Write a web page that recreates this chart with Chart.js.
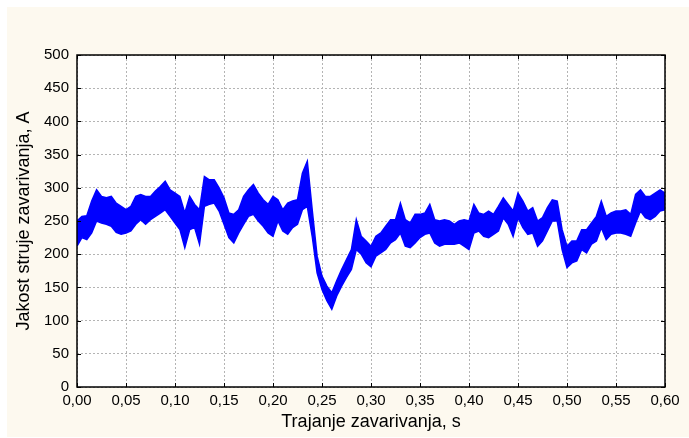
<!DOCTYPE html>
<html>
<head>
<meta charset="utf-8">
<title>Jakost struje zavarivanja</title>
<script src="https://cdn.jsdelivr.net/npm/chart.js@4.4.1/dist/chart.umd.min.js"></script>
<style>
  html, body { margin: 0; padding: 0; background: #ffffff; }
  #wrap { width: 689px; height: 438px; position: relative; }
</style>
</head>
<body>
<div id="wrap"><canvas id="current_chart"></canvas></div>
<script>
"use strict";

/*-- welding current, sampled every 5 ms (upper / lower edge of the ripple band) --*/
var step = 0.005;
var currentUpper = [
  250, 257, 258, 280, 297, 287, 285, 287, 277, 272,
  267, 272, 287, 290, 287, 287, 295, 302, 310, 297,
  292, 287, 262, 287, 275, 267, 317, 312, 312, 300,
  285, 262, 260, 267, 287, 297, 305, 292, 282, 275,
  287, 282, 267, 277, 280, 282, 322, 340, 267, 197,
  167, 152, 142, 160, 177, 192, 207, 252, 227, 220,
  212, 227, 232, 242, 252, 252, 277, 252, 247, 260,
  260, 262, 275, 252, 250, 252, 250, 245, 250, 252,
  250, 275, 262, 260, 265, 260, 272, 285, 275, 265,
  292, 280, 265, 270, 250, 255, 270, 282, 280, 237,
  212, 220, 220, 237, 237, 247, 257, 280, 257, 262,
  265, 265, 267, 260, 290, 297, 287, 287, 292, 297,
  292
];
var currentLower = [
  212, 225, 222, 232, 250, 247, 245, 242, 233, 230,
  232, 235, 245, 252, 245, 252, 257, 262, 267, 257,
  247, 237, 210, 237, 240, 215, 272, 275, 277, 265,
  245, 225, 217, 232, 245, 257, 260, 250, 242, 232,
  227, 250, 235, 230, 240, 245, 267, 272, 227, 172,
  147, 130, 117, 137, 152, 165, 177, 207, 200, 187,
  181, 197, 202, 207, 217, 222, 232, 212, 210, 217,
  225, 230, 232, 217, 212, 215, 215, 215, 217, 212,
  207, 232, 235, 227, 225, 230, 235, 255, 245, 227,
  255, 240, 230, 232, 212, 220, 235, 250, 250, 207,
  180, 187, 190, 207, 202, 215, 220, 240, 222, 230,
  232, 232, 230, 227, 247, 265, 255, 252, 257, 265,
  267
];

/*-- axis ticks --*/
var xTicks = [0, 0.05, 0.10, 0.15, 0.20, 0.25, 0.30, 0.35, 0.40, 0.45, 0.50, 0.55, 0.60];
var yTicks = [0, 50, 100, 150, 200, 250, 300, 350, 400, 450, 500];

var xTitle = "Trajanje zavarivanja, s";
var yTitle = "Jakost struje zavarivanja, A";

function toPoints(values) {
  var pts = [];
  for (var i = 0; i < values.length; i++) {
    pts.push({ x: +(i * step).toFixed(3), y: values[i] });
  }
  return pts;
}

var BLUE = "#0000ff";
var fontFace = "'Liberation Sans', Arial, sans-serif";

/*-- cream page, white plot area --*/
var backdrop = {
  id: "backdrop",
  beforeDraw: function (chart) {
    var ctx = chart.ctx, a = chart.chartArea;
    ctx.save();
    ctx.fillStyle = "#ffffff";
    ctx.fillRect(0, 0, chart.width, chart.height);
    ctx.fillStyle = "#fdf9ef";
    ctx.fillRect(7, 7, chart.width - 7, chart.height - 8);
    ctx.fillStyle = "#ffffff";
    ctx.fillRect(a.left, a.top, a.right - a.left, a.bottom - a.top);
    ctx.restore();
  }
};

/*-- frame around the plot with inward tick marks --*/
var frame = {
  id: "frame",
  afterDraw: function (chart) {
    var ctx = chart.ctx, a = chart.chartArea;
    var xs = chart.scales.x, ys = chart.scales.y;
    var len = 4;
    ctx.save();
    ctx.strokeStyle = "#000000";
    ctx.lineWidth = 1.5;
    ctx.strokeRect(a.left, a.top, a.right - a.left, a.bottom - a.top);
    ctx.lineWidth = 1;
    ctx.beginPath();
    xTicks.forEach(function (v) {
      var px = Math.round(xs.getPixelForValue(v)) + 0.5;
      ctx.moveTo(px, a.bottom); ctx.lineTo(px, a.bottom - len);
      ctx.moveTo(px, a.top); ctx.lineTo(px, a.top + len);
    });
    yTicks.forEach(function (v) {
      var py = Math.round(ys.getPixelForValue(v)) + 0.5;
      ctx.moveTo(a.left, py); ctx.lineTo(a.left + len, py);
      ctx.moveTo(a.right, py); ctx.lineTo(a.right - len, py);
    });
    ctx.stroke();
    ctx.restore();
  }
};

new Chart(document.getElementById("current_chart").getContext("2d"), {
  type: "line",
  data: {
    datasets: [{
      label: "upper",
      data: toPoints(currentUpper),
      borderColor: BLUE,
      backgroundColor: BLUE,
      borderWidth: 1.5,
      pointRadius: 0,
      tension: 0,
      fill: "+1"
    }, {
      label: "lower",
      data: toPoints(currentLower),
      borderColor: BLUE,
      backgroundColor: BLUE,
      borderWidth: 1.5,
      pointRadius: 0,
      tension: 0,
      fill: false
    }]
  },
  options: {
    responsive: true,
    maintainAspectRatio: false,
    animation: false,
    layout: { padding: { left: 6, top: 55, right: 24, bottom: 0 } },
    plugins: {
      legend: { display: false },
      tooltip: { enabled: false }
    },
    scales: {
      x: {
        type: "linear",
        min: 0,
        max: 0.6,
        afterFit: function (scale) { scale.height = 51; },
        afterBuildTicks: function (scale) {
          scale.ticks = xTicks.map(function (v) { return { value: v }; });
        },
        ticks: {
          autoSkip: false,
          maxRotation: 0,
          padding: 5,
          color: "#000000",
          font: { family: fontFace, size: 15 },
          callback: function (v) { return v.toFixed(2).replace(".", ","); }
        },
        grid: { color: "#b4b4b4", lineWidth: 1, drawTicks: false },
        border: { display: false, dash: [2, 2] },
        title: {
          display: true,
          text: xTitle,
          color: "#000000",
          font: { family: fontFace, size: 18 },
          padding: { top: 0, bottom: 5 }
        }
      },
      y: {
        min: 0,
        max: 500,
        afterFit: function (scale) { scale.width = 71; },
        afterBuildTicks: function (scale) {
          scale.ticks = yTicks.map(function (v) { return { value: v }; });
        },
        ticks: {
          padding: 8,
          color: "#000000",
          font: { family: fontFace, size: 15 }
        },
        grid: { color: "#b4b4b4", lineWidth: 1, drawTicks: false },
        border: { display: false, dash: [2, 2] },
        title: {
          display: true,
          text: yTitle,
          color: "#000000",
          font: { family: fontFace, size: 18 },
          padding: { top: 7, bottom: 0 }
        }
      }
    }
  },
  plugins: [backdrop, frame]
});
</script>
</body>
</html>
